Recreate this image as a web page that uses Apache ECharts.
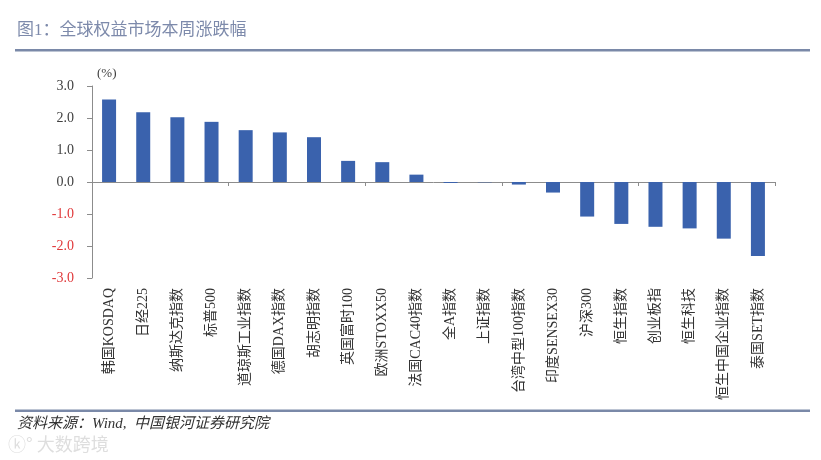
<!DOCTYPE html>
<html><head><meta charset="utf-8">
<script src="https://cdn.jsdelivr.net/npm/echarts@6/dist/echarts.min.js"></script>
<style>html,body{margin:0;padding:0;background:#fff}#c{width:821px;height:460px}</style>
</head><body><div id="c"></div>
<script>
const categories = ['韩国KOSDAQ','日经225','纳斯达克指数','标普500','道琼斯工业指数','德国DAX指数','胡志明指数','英国富时100','欧洲STOXX50','法国CAC40指数','全A指数','上证指数','台湾中型100指数','印度SENSEX30','沪深300','恒生指数','创业板指','恒生科技','恒生中国企业指数','泰国SET指数'];
const values = [2.58, 2.18, 2.02, 1.88, 1.62, 1.55, 1.40, 0.66, 0.62, 0.23, -0.03, -0.01, -0.08, -0.33, -1.08, -1.31, -1.40, -1.45, -1.77, -2.31];
const yTicks = [-3, -2, -1, 0, 1, 2, 3];

const serif = '"Liberation Serif","DejaVu Serif","Noto Sans CJK SC",serif';
const chart = echarts.init(document.getElementById('c'));
chart.setOption({
  animation: false,
  backgroundColor: '#fff',
  grid: { left: 92, right: 46, top: 86, bottom: 182, containLabel: false },
  xAxis: [{
    type: 'category', data: categories,
    axisLine: { onZero: true, lineStyle: { color: '#8c8c8c', width: 1 } },
    axisTick: { show: true, length: 4, lineStyle: { color: '#8c8c8c' } },
    axisLabel: { show: false }
  }, {
    type: 'category', data: categories, position: 'bottom',
    axisLine: { show: false }, axisTick: { show: false },
    axisLabel: { rotate: 90, interval: 0, margin: 10, fontSize: 14, color: '#333', fontFamily: serif }
  }],
  yAxis: {
    type: 'value', min: yTicks[0], max: yTicks[yTicks.length - 1], interval: 1,
    axisLine: { show: true, lineStyle: { color: '#8c8c8c' } },
    axisTick: { show: true, length: 5, lineStyle: { color: '#8c8c8c' } },
    splitLine: { show: false },
    axisLabel: {
      margin: 18, fontSize: 14, fontFamily: serif,
      formatter: v => v.toFixed(1),
      color: v => (v < 0 ? '#e0383a' : '#404040')
    }
  },
  series: [{
    type: 'bar', data: values, barWidth: 14, xAxisIndex: 0,
    itemStyle: { color: '#3a62ad' }
  }],
  graphic: [
    { type: 'text', left: 17, top: 22, style: { text: '图1：全球权益市场本周涨跌幅', fontSize: 17, fill: '#7d8aab', fontFamily: serif } },
    { type: 'rect', shape: { x: 15, y: 49, width: 795, height: 2.5 }, style: { fill: '#7a89a8' } },
    { type: 'text', left: 97, top: 67, style: { text: '(%)', fontSize: 13, fill: '#404040', fontFamily: serif } },
    { type: 'rect', shape: { x: 15, y: 409.5, width: 795, height: 2.5 }, style: { fill: '#7a89a8' } },
    { type: 'text', left: 17, top: 417, style: { text: '资料来源：Wind,  中国银河证券研究院', fontSize: 15, fill: '#333', fontStyle: 'italic', fontFamily: serif } },
    { type: 'text', left: 8, top: 435, style: { text: 'ⓚ° 大数跨境', fontSize: 18, fill: '#dedede', fontFamily: '"Noto Sans CJK SC",sans-serif' } }
  ]
});
</script></body></html>
